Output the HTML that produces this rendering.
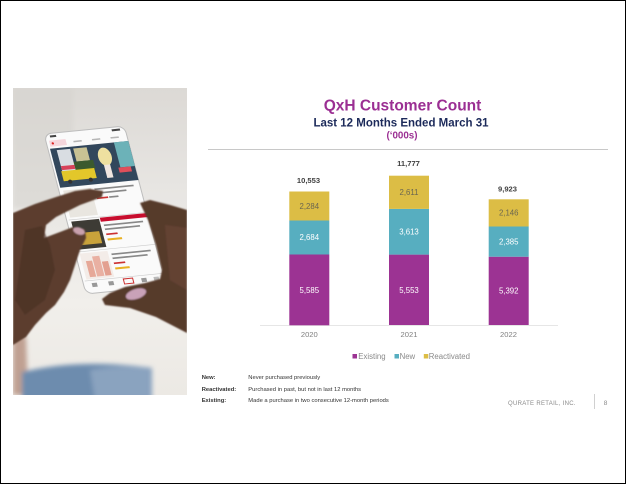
<!DOCTYPE html>
<html><head><meta charset="utf-8"><style>
html,body{margin:0;padding:0;background:#fff;}
svg{display:block;}
text{font-family:"Liberation Sans",Arial,sans-serif;}
</style></head><body>
<svg width="626" height="484" viewBox="0 0 626 484" xmlns="http://www.w3.org/2000/svg">
<defs>
  <clipPath id="pc"><rect x="13" y="88" width="174" height="307"/></clipPath>
  <linearGradient id="bg" x1="0" y1="0" x2="0" y2="1">
    <stop offset="0" stop-color="#dcd9d5"/>
    <stop offset="0.35" stop-color="#e8e6e3"/>
    <stop offset="0.7" stop-color="#f1efeb"/>
    <stop offset="1" stop-color="#ece9e4"/>
  </linearGradient>
  <filter id="b2" x="-20%" y="-20%" width="140%" height="140%"><feGaussianBlur stdDeviation="2.5"/></filter>
  <filter id="b1" x="-10%" y="-10%" width="120%" height="120%"><feGaussianBlur stdDeviation="0.8"/></filter>
  <filter id="b0" x="-5%" y="-5%" width="110%" height="110%"><feGaussianBlur stdDeviation="0.35"/></filter>
</defs>
<rect x="0" y="0" width="626" height="484" fill="#fff"/>
<rect x="0.5" y="0.5" width="625" height="483" fill="none" stroke="#000" stroke-width="1"/>

<!-- PHOTO -->
<g clip-path="url(#pc)">
  <rect x="13" y="88" width="174" height="307" fill="url(#bg)"/>
  <g filter="url(#b2)">
    <rect x="13" y="88" width="60" height="120" fill="#d6d3ce" opacity="0.6"/>
    <path d="M13,338 L26,336 L28,395 L13,395 Z" fill="#c0a092"/>
    <path d="M22,372 Q80,358 152,368 L152,400 L22,400 Z" fill="#6d8cae"/>
    <path d="M90,370 Q125,364 152,368 L152,400 L95,400 Z" fill="#8aa3bf"/>
  </g>
  <!-- phone -->
  <g filter="url(#b0)">
  <g transform="matrix(1.03 -0.1026 0.2625 1 44 134)">
    <rect x="0" y="0" width="78" height="160" rx="7" fill="#fafafa" stroke="#bdbdbd" stroke-width="1"/>
    <rect x="5" y="2" width="6" height="2" fill="#444"/>
    <rect x="65" y="2" width="8" height="2" fill="#444"/>
    <rect x="3" y="7" width="16" height="6" fill="#f5d6dc"/>
    <circle cx="6" cy="10" r="1.1" fill="#d22"/>
    <rect x="26" y="9.5" width="8" height="1.5" fill="#b5b5b5"/>
    <rect x="44" y="9.5" width="8" height="1.5" fill="#b5b5b5"/>
    <rect x="62" y="9.5" width="8" height="1.5" fill="#b5b5b5"/>
    <rect x="2" y="15" width="76" height="39" fill="#33465b"/>
    <rect x="24" y="17" width="13" height="13" fill="#c9c294"/>
    <rect x="14" y="30" width="26" height="9" fill="#3b5a2d"/>
    <rect x="8" y="17" width="13" height="22" fill="#d9dde2"/>
    <rect x="8" y="33" width="13" height="4" fill="#d8425a"/>
    <rect x="7" y="38" width="32" height="10" fill="#e3c72a"/>
    <circle cx="13" cy="49" r="2" fill="#333"/><circle cx="33" cy="49" r="2" fill="#333"/>
    <rect x="64" y="15" width="14" height="25" fill="#6cb2b8"/>
    <ellipse cx="52" cy="28" rx="6.5" ry="9" fill="#eee0a0"/>
    <rect x="49" y="36" width="6" height="13" fill="#f0e6e0"/>
    <rect x="62" y="40" width="12" height="5" fill="#e0505a"/>
    <rect x="4" y="57" width="27" height="27" fill="#e9e6e0"/>
    <rect x="34" y="58" width="38" height="1.6" fill="#888"/>
    <rect x="34" y="62" width="30" height="1.6" fill="#888"/>
    <rect x="34" y="67" width="11" height="1.6" fill="#c33"/>
    <rect x="46" y="67" width="9" height="1.6" fill="#888"/>
    <rect x="2" y="86" width="76" height="0.6" fill="#ccc"/>
    <rect x="32" y="87" width="46" height="4" fill="#c8102e"/>
    <rect x="4" y="88" width="27" height="28" fill="#3e3a36"/>
    <rect x="8" y="100" width="20" height="12" fill="#c9a23a"/>
    <rect x="34" y="94" width="38" height="1.6" fill="#888"/>
    <rect x="34" y="98" width="34" height="1.6" fill="#888"/>
    <rect x="34" y="103" width="11" height="1.6" fill="#c33"/>
    <rect x="34" y="108" width="14" height="2" fill="#e8b020"/>
    <rect x="2" y="118" width="76" height="0.6" fill="#ccc"/>
    <rect x="4" y="120" width="27" height="26" fill="#f3ece8"/>
    <rect x="8" y="128" width="6" height="16" fill="#e6a898"/>
    <rect x="15" y="124" width="7" height="20" fill="#e9b0a2"/>
    <rect x="23" y="130" width="6" height="14" fill="#e3a090"/>
    <rect x="34" y="123" width="38" height="1.6" fill="#888"/>
    <rect x="34" y="127" width="34" height="1.6" fill="#888"/>
    <rect x="34" y="132" width="11" height="1.6" fill="#c33"/>
    <rect x="34" y="137" width="14" height="2" fill="#e8b020"/>
    <rect x="2" y="147" width="76" height="0.6" fill="#ccc"/>
    <rect x="8" y="150" width="5" height="4" fill="#999"/>
    <rect x="24" y="150" width="5" height="4" fill="#999"/>
    <rect x="39" y="149" width="9" height="5" fill="none" stroke="#c33" stroke-width="1"/>
    <rect x="56" y="150" width="5" height="4" fill="#999"/>
    <rect x="68" y="150" width="5" height="4" fill="#bbb"/>
  </g>
  </g>
  <!-- hands -->
  <g filter="url(#b1)">
    <path d="M13,213 L35,204 L56,197 L75,191 L90,189 L103,191 L102,197 L80,205 L56,217 L46,225 L44,238 L60,232 L73,227 L85,229 L86,238 L80,250 L75,265 L70,280 L64,292 L55,305 L46,313 L35,325 L26,337 L13,345 Z" fill="#5b3c2e"/>
    <path d="M25,230 L42,226 L50,245 L55,270 L45,300 L25,315 L15,300 Z" fill="#4a2f23" opacity="0.6"/>
    <path d="M140,203 L150,200 L170,205 L187,210 L187,333 L156,317 L130,308 L105,305 L102,299 L110,293 L125,287 L145,283 L160,279 L162,270 L156,245 L148,220 Z" fill="#573a2c"/>
    <path d="M165,225 L187,228 L187,290 L170,280 Z" fill="#6b4838" opacity="0.6"/>
    <ellipse cx="79" cy="231" rx="6" ry="3.5" fill="#c9a0ad" transform="rotate(20 79 231)"/>
    <ellipse cx="136" cy="294" rx="10.5" ry="5" fill="#c9a2b8" transform="rotate(-18 136 294)"/>
  </g>
</g>

<!-- TITLE -->
<text x="402.5" y="110.5" text-anchor="middle" font-size="15.5" font-weight="bold" fill="#9b2f93">QxH Customer Count</text>
<text x="401" y="126.4" text-anchor="middle" font-size="11.5" font-weight="bold" fill="#1c2a5a">Last 12 Months Ended March 31</text>
<text x="402" y="138.4" text-anchor="middle" font-size="9.8" font-weight="bold" fill="#9b2f93">(‘000s)</text>
<line x1="208" y1="149.5" x2="608" y2="149.5" stroke="#c8c8c8" stroke-width="1"/>

<!-- BARS -->
<line x1="260" y1="325.5" x2="558" y2="325.5" stroke="#e6e6e6" stroke-width="1"/>
<rect x="289.3" y="254.5" width="40" height="70.8" fill="#9c3393"/>
<rect x="289.3" y="220.5" width="40" height="34" fill="#57aec0"/>
<rect x="289.3" y="191.5" width="40" height="29" fill="#dcbd45"/>
<rect x="389" y="254.6" width="40" height="70.4" fill="#9c3393"/>
<rect x="389" y="208.9" width="40" height="45.7" fill="#57aec0"/>
<rect x="389" y="175.7" width="40" height="33.2" fill="#dcbd45"/>
<rect x="488.7" y="256.7" width="40" height="68.3" fill="#9c3393"/>
<rect x="488.7" y="226.5" width="40" height="30.2" fill="#57aec0"/>
<rect x="488.7" y="199.3" width="40" height="27.2" fill="#dcbd45"/>

<g font-size="7.8" text-anchor="middle">
  <text x="309.3" y="292.8" fill="#fff">5,585</text>
  <text x="309.3" y="240.2" fill="#fff">2,684</text>
  <text x="309.3" y="208.8" fill="#6b6650">2,284</text>
  <text x="409" y="292.8" fill="#fff">5,553</text>
  <text x="409" y="234.6" fill="#fff">3,613</text>
  <text x="409" y="195.2" fill="#6b6650">2,611</text>
  <text x="508.7" y="293.6" fill="#fff">5,392</text>
  <text x="508.7" y="244.4" fill="#fff">2,385</text>
  <text x="508.7" y="215.6" fill="#6b6650">2,146</text>
</g>
<g font-size="7.6" font-weight="bold" text-anchor="middle" fill="#3f3f3f">
  <text x="308.5" y="183">10,553</text>
  <text x="408.5" y="166">11,777</text>
  <text x="507.5" y="191.7">9,923</text>
</g>
<g font-size="7.6" text-anchor="middle" fill="#7f7f7f">
  <text x="309.3" y="336.8">2020</text>
  <text x="409" y="336.8">2021</text>
  <text x="508.5" y="336.8">2022</text>
</g>

<!-- LEGEND -->
<rect x="352.5" y="354" width="4.5" height="4.5" fill="#9c3393"/>
<text x="358.3" y="358.9" font-size="7.8" fill="#8a8a8a">Existing</text>
<rect x="394.5" y="354" width="4.5" height="4.5" fill="#57aec0"/>
<text x="399.6" y="358.9" font-size="7.8" fill="#8a8a8a">New</text>
<rect x="423.8" y="354" width="4.5" height="4.5" fill="#dcbd45"/>
<text x="428.8" y="358.9" font-size="7.8" fill="#8a8a8a">Reactivated</text>

<!-- FOOTNOTES -->
<g font-size="5.8" fill="#333">
  <text x="201.7" y="379" font-weight="bold">New:</text>
  <text x="201.7" y="390.8" font-weight="bold">Reactivated:</text>
  <text x="201.7" y="401.8" font-weight="bold">Existing:</text>
  <text x="248.3" y="379">Never purchased previously</text>
  <text x="248.3" y="390.8">Purchased in past, but not in last 12 months</text>
  <text x="248.3" y="401.8">Made a purchase in two consecutive 12-month periods</text>
</g>
<text x="508" y="404.8" font-size="6" letter-spacing="0.3" fill="#8a8a8a">QURATE RETAIL, INC.</text>
<line x1="594.5" y1="394" x2="594.5" y2="409" stroke="#d0d0d0" stroke-width="1"/>
<text x="605.5" y="405" font-size="6.5" text-anchor="middle" fill="#8a8a8a">8</text>
</svg>
</body></html>
